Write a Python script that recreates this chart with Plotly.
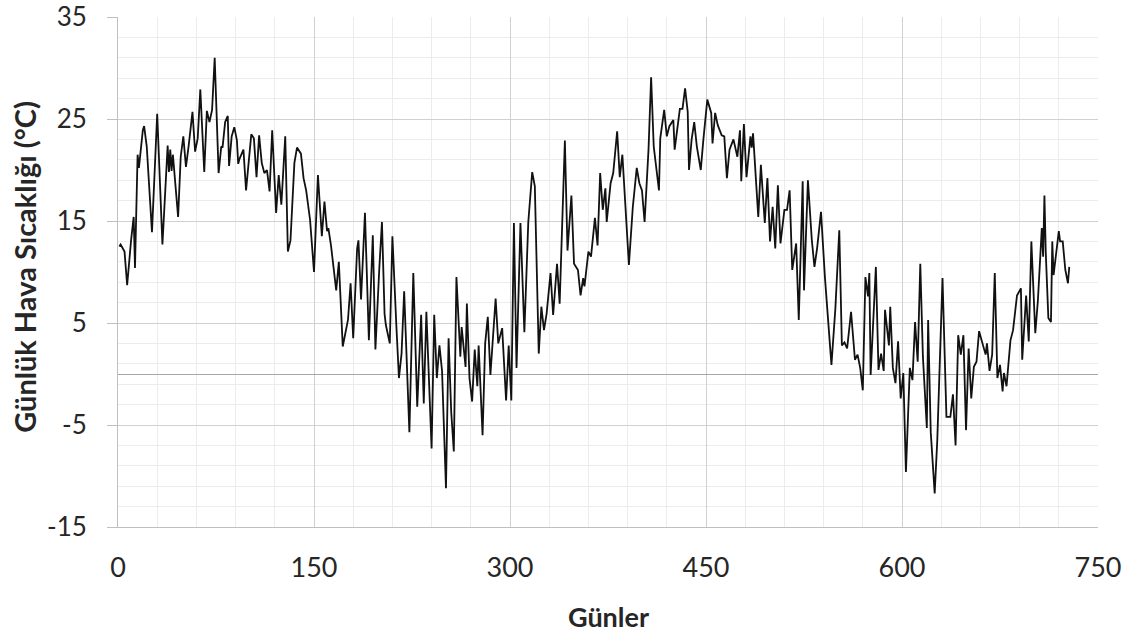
import plotly.graph_objects as go

days = [1, 2, 5, 7, 10, 12, 13, 15, 16, 19, 20, 22, 26, 30, 34, 38, 39, 40, 41, 42, 46, 48, 50, 52, 54,
        57, 59, 61, 63, 66, 68, 70, 72, 74, 77, 79, 80, 82, 84, 85, 87, 89, 91, 92, 93, 96, 98, 102, 104,
        106, 108, 110, 112, 114, 116, 118, 121, 123, 125, 128, 130, 132, 135, 137, 140, 142, 144, 147, 150,
        153, 156, 158, 160, 161, 163, 167, 169, 172, 176, 178, 180, 183, 184, 186, 189, 192, 195, 197, 200,
        202, 204, 205, 208, 210, 213, 215, 217, 219, 223, 226, 229, 232, 234, 236, 240, 242, 244, 246, 248,
        251, 253, 255, 257, 259, 262, 263, 266, 267, 269, 271, 273, 275, 276, 279, 281, 283, 285, 289, 291,
        294, 297, 299, 301, 303, 305, 308, 311, 314, 317, 319, 322, 324, 326, 328, 331, 333, 336, 338, 342,
        344, 347, 349, 352, 354, 356, 357, 360, 362, 365, 367, 369, 371, 373, 374, 377, 379, 382, 384, 386,
        389, 391, 394, 397, 399, 401, 403, 406, 408, 410, 414, 415, 418, 420, 422, 425, 426, 430, 432, 434,
        436, 437, 439, 441, 443, 446, 448, 451, 454, 455, 457, 459, 462, 464, 466, 468, 471, 473, 474, 476,
        477, 479, 481, 484, 485, 486, 490, 492, 495, 497, 499, 501, 503, 505, 507, 510, 512, 514, 516, 519,
        521, 524, 525, 528, 531, 533, 535, 538, 541, 546, 549, 552, 554, 556, 558, 561, 564, 566, 568, 570,
        572, 574, 575, 576, 578, 580, 582, 584, 586, 587, 590, 591, 593, 595, 597, 599, 601, 603, 606, 608,
        610, 612, 614, 616, 619, 620, 622, 625, 627, 631, 634, 637, 639, 641, 643, 645, 647, 649, 651, 653,
        655, 657, 659, 661, 664, 665, 667, 669, 671, 673, 675, 677, 678, 680, 683, 685, 688, 691, 692, 695,
        697, 699, 702, 704, 707, 708, 709, 710, 712, 714, 715, 716, 720, 721, 723, 725, 727, 728]

temps = [12.5, 12.7, 12.0, 8.7, 13.1, 15.4, 10.4, 21.5, 20.2, 23.9, 24.3, 22.3, 13.9, 25.5, 12.7, 22.4, 19.8,
         22.0, 19.9, 21.5, 15.4, 21.3, 23.3, 20.3, 22.3, 25.7, 21.8, 23.1, 27.9, 19.8, 25.8, 24.7, 25.9, 31.0,
         19.7, 22.3, 22.2, 24.7, 25.3, 20.4, 23.3, 24.2, 22.9, 20.6, 21.1, 22.0, 18.0, 23.5, 23.1, 19.3, 23.4,
         20.7, 19.7, 20.0, 17.9, 23.9, 15.8, 19.5, 16.6, 23.3, 12.0, 13.1, 20.7, 22.2, 21.6, 19.2, 18.0, 15.1,
         10.0, 19.5, 13.5, 16.9, 14.0, 14.3, 12.6, 8.2, 11.0, 2.7, 5.3, 8.9, 3.5, 12.3, 13.1, 7.3, 15.8, 3.3,
         13.6, 2.4, 10.4, 14.9, 5.9, 4.8, 3.0, 13.5, 4.8, -0.4, 2.0, 8.1, -5.7, 9.9, -3.2, 5.8, -2.9, 6.1, -7.3,
         5.8, -0.4, 2.8, 0.3, -11.2, 3.5, -3.7, -7.6, 9.5, 1.7, 4.6, 0.7, 6.9, -0.4, -2.7, 2.4, -1.2, 2.8, -6.0,
         3.0, 5.6, -0.1, 7.4, 3.0, 4.5, -2.6, 2.8, -2.6, 14.8, 0.6, 14.8, 4.1, 14.9, 19.8, 18.4, 2.0, 6.6, 4.3,
         5.9, 9.9, 5.8, 10.8, 6.9, 22.9, 12.1, 17.5, 10.8, 10.2, 7.7, 9.4, 8.6, 12.0, 11.5, 15.3, 12.6, 19.7,
         16.1, 18.2, 14.9, 18.7, 19.7, 23.8, 19.3, 21.5, 15.1, 10.7, 16.4, 20.2, 18.7, 18.0, 14.9, 22.0, 29.1,
         22.3, 18.0, 23.1, 25.9, 23.3, 24.3, 24.9, 22.0, 26.0, 26.0, 28.0, 25.7, 20.0, 23.0, 24.7, 22.3, 20.0,
         23.0, 26.9, 25.6, 22.6, 25.6, 24.4, 23.4, 23.3, 19.2, 22.0, 23.0, 22.0, 21.3, 23.9, 18.9, 24.5, 19.3,
         23.3, 22.2, 23.6, 15.4, 20.5, 14.8, 19.2, 13.0, 16.4, 12.3, 18.5, 12.8, 16.1, 16.1, 18.0, 10.2, 12.8,
         5.3, 18.9, 8.2, 19.0, 13.1, 10.5, 12.3, 15.9, 9.5, 0.9, 6.4, 14.1, 2.8, 3.1, 2.5, 6.1, 1.4, 1.9, 0.6,
         -1.6, 9.5, 7.6, 9.9, -0.1, 5.6, 10.5, 0.4, 2.0, 0.3, 6.3, 2.8, 6.6, 0.6, -0.9, 3.2, -2.4, 0.1, -9.6,
         0.6, -0.6, 5.1, 1.2, 10.8, 1.7, -5.3, 5.3, -5.7, -11.7, -6.5, 9.4, -4.2, -4.2, -2.0, -7.0, 3.8, 1.9,
         3.8, -5.5, 2.5, -2.4, 0.7, 1.2, 4.2, 3.2, 1.9, 3.0, 0.3, 1.9, 9.9, -0.4, 0.9, -1.7, 0.1, -1.2, 3.3,
         4.3, 7.7, 8.4, 1.4, 7.7, 3.2, 13.0, 4.0, 7.2, 14.3, 11.5, 17.5, 12.0, 5.5, 5.1, 13.0, 9.7, 14.0, 13.0,
         13.0, 10.2, 8.9, 10.5]

x_ticks = [0, 150, 300, 450, 600, 750]
y_ticks = [-15, -5, 5, 15, 25, 35]
y_tick_text = ["-15", "-5", "5", "15", "25", "35"]

x_title = "Günler"
y_title = "Günlük Hava Sıcaklığı (°C)"

font_family = "Lato, 'Open Sans', sans-serif"
text_color = "#262626"

fig = go.Figure()
fig.add_trace(go.Scatter(
    x=days, y=temps, mode="lines",
    line=dict(color="#111111", width=1.8),
    showlegend=False, hoverinfo="x+y"))

fig.update_layout(
    width=1129, height=634,
    margin=dict(l=118, r=31, t=17, b=107, autoexpand=False),
    paper_bgcolor="white", plot_bgcolor="white",
    font=dict(family=font_family, size=26, color=text_color),
    annotations=[
        dict(text="<b>" + x_title + "</b>", xref="paper", yref="paper",
             x=0.5, y=-0.176, xanchor="center", yanchor="middle", showarrow=False,
             font=dict(size=27, color=text_color)),
        dict(text="<b>" + y_title + "</b>", xref="paper", yref="paper",
             x=-0.095, y=0.51, xanchor="center", yanchor="middle", showarrow=False,
             textangle=-90, font=dict(size=29, color=text_color)),
    ],
)

fig.update_xaxes(
    range=[0, 750], tickvals=x_ticks, ticktext=[str(v) for v in x_ticks],
    showgrid=True, gridcolor="#d0d0d0", gridwidth=1,
    minor=dict(dtick=30, tick0=0, showgrid=True, gridcolor="#ececec", gridwidth=1),
    showline=True, linecolor="#bfbfbf", linewidth=1,
    zeroline=False, ticks="", ticklabelstandoff=17, automargin=False,
    ticklabeloverflow="allow",
    tickfont=dict(size=27, color=text_color),
)

fig.update_yaxes(
    range=[-15, 35], tickvals=y_ticks, ticktext=y_tick_text,
    showgrid=True, gridcolor="#d0d0d0", gridwidth=1,
    minor=dict(dtick=2, tick0=-15, showgrid=True, gridcolor="#ececec", gridwidth=1),
    showline=True, linecolor="#bfbfbf", linewidth=1,
    zeroline=True, zerolinecolor="#a6a6a6", zerolinewidth=1,
    ticks="outside", ticklen=10, tickcolor="#bfbfbf", ticklabelstandoff=15, automargin=False,
    ticklabeloverflow="allow",
    tickfont=dict(size=26, color=text_color),
)

# Remove the browser's default 8px page margin so the figure fills the window exactly.
fig.write_html("out.html", config={"displayModeBar": False},
               post_script="document.body.style.margin='0';")
